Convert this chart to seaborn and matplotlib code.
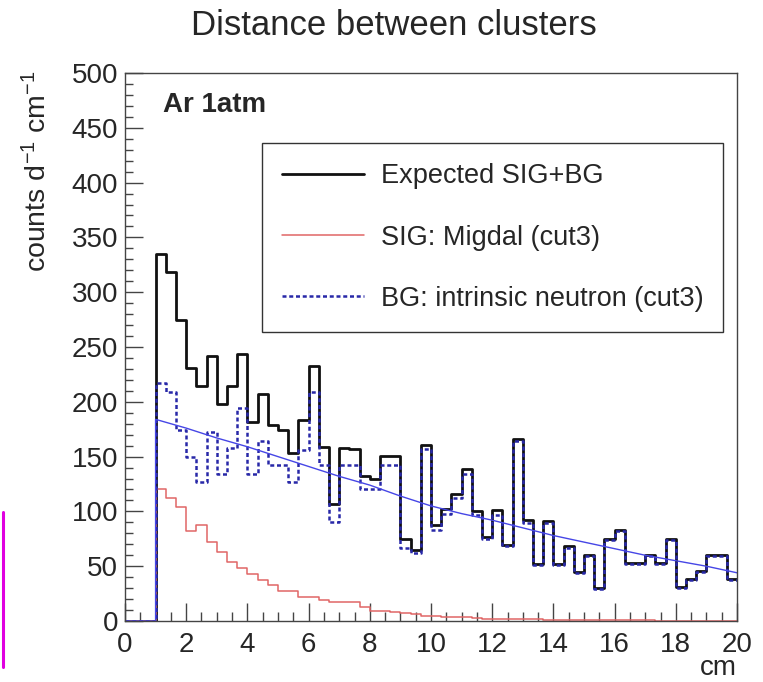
import numpy as np
import pandas as pd
import matplotlib
matplotlib.use("Agg")
import matplotlib.pyplot as plt
from matplotlib.lines import Line2D
from matplotlib.ticker import MultipleLocator
import seaborn as sns

# histogram binning (cm), bins of 1/3 cm starting at 0
bin_edges = np.linspace(0, 20, 61)
n_empty = 3  # bins below 1 cm are empty

# Expected SIG+BG (counts/day/cm), bins from 1 cm
sig_bg = [335, 318, 275, 231, 214, 242, 198, 214, 244, 182, 207, 179, 174, 153, 183,
          233, 159, 107, 158, 157, 132, 130, 151, 151, 75, 65, 161, 88, 102, 116,
          139, 100, 77, 101, 69, 166, 92, 52, 91, 52, 68, 45, 60, 30, 75,
          83, 53, 53, 60, 53, 75, 31, 38, 46, 60, 60, 38]

# SIG: Migdal (cut3)
sig = [120, 112, 104, 82, 88, 72, 63, 54, 48, 43, 37, 33, 27, 27, 22,
       22, 19, 17, 17, 17, 13, 9, 9, 8.5, 7, 6.5, 5, 5, 4, 4,
       3.5, 3, 2, 2, 2, 1.5, 1.5, 1.5, 1, 1, 1, 1, 1, 0.5, 0.5,
       0.5, 0.5, 0.5, 0.5, 0.3, 0.3, 0.3, 0.3, 0.2, 0.2, 0.2, 0.2]

# BG: intrinsic neutron (cut3)
bg = [217, 209, 174, 150, 127, 172, 134, 158, 194, 134, 164, 142, 142, 127, 156,
      209, 142, 90, 142, 142, 120, 120, 142, 142, 67, 62, 157, 83, 98, 112,
      134, 97, 75, 97, 68, 164, 89, 51, 89, 51, 67, 44, 59, 29, 74,
      82, 52, 52, 59, 52, 74, 30, 37, 45, 59, 59, 37]

# smooth BG model curve
fit_x = [0, 1, 1, 2, 3, 4, 5, 6, 7, 8, 9, 10, 11, 12, 13, 14, 15, 16, 17, 18, 19, 20]
fit_y = [0, 0, 184, 176, 167, 159, 150, 141, 132, 124, 114, 105, 98, 92, 85, 78, 72, 66, 60, 55, 50, 44]

legend_labels = ["Expected SIG+BG", "SIG: Migdal (cut3)", "BG: intrinsic neutron (cut3)"]

sns.set_style("ticks")
plt.rcParams["font.family"] = ["Liberation Sans", "DejaVu Sans"]
plt.rcParams["mathtext.fontset"] = "custom"
plt.rcParams["mathtext.rm"] = "Liberation Sans"
plt.rcParams["mathtext.it"] = "Liberation Sans:italic"

fig = plt.figure(figsize=(7.63, 6.82), dpi=100)
ax = fig.add_axes([0.1638, 0.0894, 0.8022, 0.8036])

centers = (bin_edges[:-1] + bin_edges[1:]) / 2
pad = [0] * n_empty
hist_df = pd.DataFrame({"x": centers, "sig_bg": pad + sig_bg,
                        "sig": pad + sig, "bg": pad + bg})

c_black = "#111111"
c_red = "#e06666"
c_dash = "#2828a8"
c_fit = "#4646e6"
dash = (0, (1.6, 1.1))

sns.histplot(data=hist_df, x="x", weights="sig_bg", bins=list(bin_edges), element="step",
             fill=False, color=c_black, linewidth=2.0, ax=ax)
sns.histplot(data=hist_df, x="x", weights="sig", bins=list(bin_edges), element="step",
             fill=False, color=c_red, linewidth=1.1, ax=ax)
sns.histplot(data=hist_df, x="x", weights="bg", bins=list(bin_edges), element="step",
             fill=False, color=c_dash, linewidth=1.8, linestyle=dash, ax=ax)
sns.lineplot(x=fit_x, y=fit_y, estimator=None, sort=False, color=c_fit,
             linewidth=1.0, ax=ax)

ax.set_xlim(0, 20)
ax.set_ylim(0, 500)
ax.xaxis.set_major_locator(MultipleLocator(2))
ax.xaxis.set_minor_locator(MultipleLocator(0.5))
ax.yaxis.set_major_locator(MultipleLocator(50))
ax.yaxis.set_minor_locator(MultipleLocator(10))
ax.tick_params(axis="both", which="both", direction="in", top=False, right=False,
               color="#444444", labelsize=20, width=1.0)
ax.tick_params(axis="x", which="major", length=13, pad=8)
ax.tick_params(axis="x", which="minor", length=6.5)
ax.tick_params(axis="y", which="major", length=13, pad=5)
ax.tick_params(axis="y", which="minor", length=5.5)
for sp in ax.spines.values():
    sp.set_visible(True)
    sp.set_color("#444444")
    sp.set_linewidth(1.0)
ax.set_xlabel("")
ax.set_ylabel("")

ax.text(1.0, -0.062, "cm", transform=ax.transAxes, ha="right", va="top", fontsize=20)
ax.text(-0.142, 1.005, "counts d$^{-1}$ cm$^{-1}$", transform=ax.transAxes, rotation=90,
        ha="center", va="top", fontsize=20.5)
ax.text(1.24, 471, "Ar 1atm", fontsize=20, fontweight="bold", va="center", ha="left")

fig.text(0.516, 0.963, "Distance between clusters", ha="center", va="center", fontsize=25)

handles = [Line2D([], [], color=c_black, linewidth=2.0),
           Line2D([], [], color=c_red, linewidth=1.1),
           Line2D([], [], color=c_dash, linewidth=1.8, linestyle=dash)]
leg = ax.legend(handles, legend_labels, loc="lower left",
                bbox_to_anchor=(0.224, 0.527, 0.753, 0.354), mode="expand",
                borderaxespad=0, fontsize=19.5, handlelength=3.0, handletextpad=0.65,
                labelspacing=1.3, borderpad=0.75, fancybox=False, framealpha=1,
                edgecolor="#333333")
leg.get_frame().set_linewidth(1.0)

# magenta edge mark at the far left of the image
fig.add_artist(Line2D([0.004, 0.004], [0.022, 0.249], color="#e000e0", linewidth=2.2,
                      transform=fig.transFigure))

fig.savefig("out.png", dpi=100, facecolor="white")
